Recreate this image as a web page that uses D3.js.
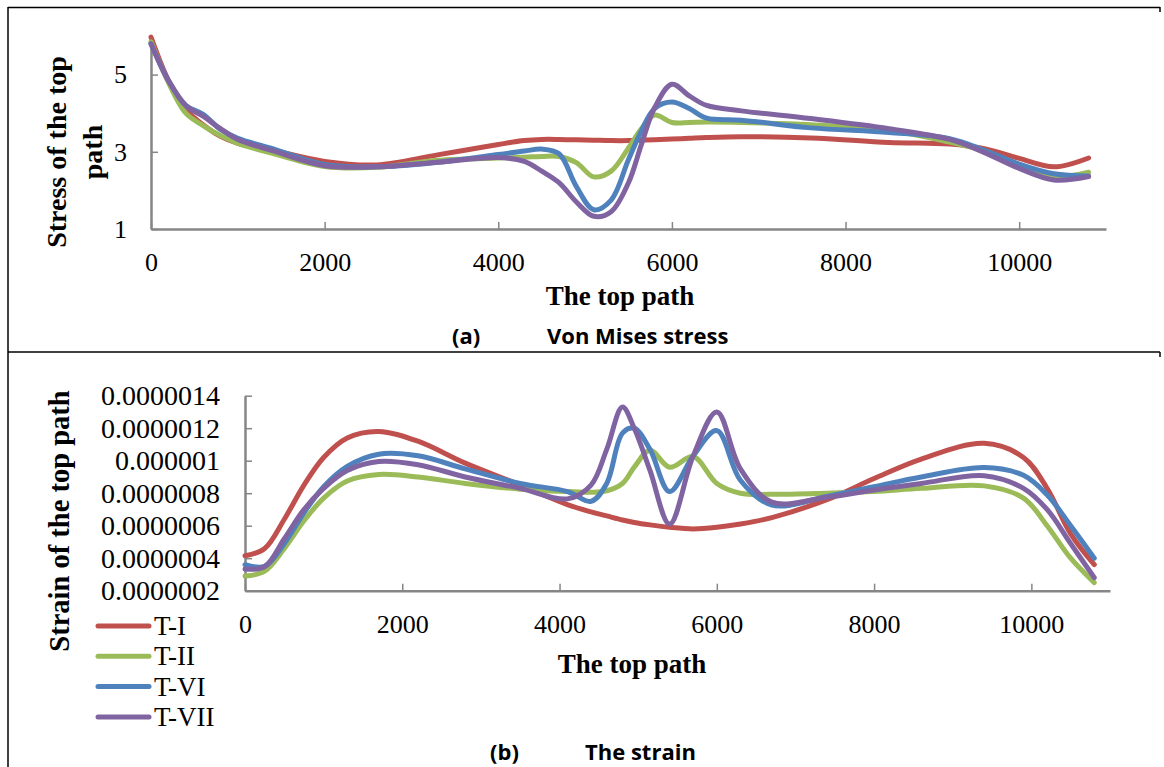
<!DOCTYPE html>
<html>
<head>
<meta charset="utf-8">
<script src="https://cdn.jsdelivr.net/npm/d3@7"></script>
<style>
    body { margin: 0; background: #fff; }
    svg { display: block; }
</style>
</head>
<body>
<div id="chart"></div>
<script>
// series names and colours
const seriesNames  = ["T-I", "T-II", "T-VI", "T-VII"];
const seriesColors = ["#C0504D", "#9BBB59", "#4F81BD", "#8064A2"];

// (a) Von Mises stress along the top path
const stressX = [0, 200, 400, 600, 800, 1000, 1400, 2000, 2600, 3300, 4000, 4300, 4500, 4700, 4900,
    5100, 5300, 5500, 5650, 5800, 6000, 6200, 6400, 6800, 7600, 8500, 9200, 9600, 10000, 10400, 10800];
const stressTI   = [5.97, 4.85, 4.1, 3.7, 3.4, 3.22, 3.04, 2.75, 2.66, 2.92, 3.19, 3.29, 3.32, 3.32, 3.31,
    3.30, 3.29, 3.29, 3.30, 3.31, 3.33, 3.35, 3.37, 3.39, 3.36, 3.24, 3.20, 3.08, 2.83, 2.61, 2.84];
const stressTII  = [5.85, 4.8, 4.0, 3.68, 3.42, 3.22, 2.96, 2.62, 2.6, 2.78, 2.84, 2.86, 2.88, 2.88, 2.72,
    2.35, 2.5, 3.1, 3.6, 3.95, 3.76, 3.76, 3.77, 3.76, 3.70, 3.56, 3.25, 3.02, 2.67, 2.36, 2.47];
const stressTVI  = [5.8, 4.85, 4.2, 3.97, 3.58, 3.35, 3.08, 2.67, 2.61, 2.73, 2.93, 3.02, 3.07, 2.95, 2.1,
    1.5, 1.75, 2.8, 3.55, 4.12, 4.29, 4.12, 3.87, 3.82, 3.62, 3.50, 3.34, 3.04, 2.68, 2.43, 2.37];
const stressTVII = [5.8, 4.85, 4.2, 3.92, 3.6, 3.32, 3.03, 2.64, 2.61, 2.73, 2.85, 2.75, 2.5, 2.2, 1.7,
    1.33, 1.45, 2.2, 3.2, 4.14, 4.75, 4.45, 4.2, 4.06, 3.86, 3.6, 3.32, 2.98, 2.57, 2.27, 2.36];

// (b) strain along the top path, in units of 1e-6
const strainX = [0, 250, 500, 750, 1000, 1300, 1700, 2200, 2800, 3500, 4100, 4400, 4600, 4800, 4950,
    5150, 5400, 5700, 6000, 6300, 6700, 7400, 8000, 8600, 9400, 9900, 10200, 10500, 10800];
const strainTI   = [0.415, 0.46, 0.64, 0.85, 1.02, 1.14, 1.18, 1.12, 0.985, 0.85, 0.73, 0.685, 0.66, 0.635, 0.62,
    0.605, 0.59, 0.58, 0.59, 0.61, 0.65, 0.76, 0.89, 1.01, 1.107, 1.02, 0.83, 0.55, 0.36];
const strainTII  = [0.29, 0.32, 0.46, 0.63, 0.77, 0.875, 0.915, 0.9, 0.86, 0.825, 0.81, 0.806, 0.815, 0.86, 0.96,
    1.065, 0.96, 1.025, 0.86, 0.80, 0.793, 0.80, 0.81, 0.83, 0.845, 0.77, 0.60, 0.40, 0.25];
const strainTVI  = [0.36, 0.35, 0.49, 0.68, 0.84, 0.965, 1.04, 1.03, 0.95, 0.86, 0.81, 0.75, 0.86, 1.17, 1.2,
    1.07, 0.81, 1.03, 1.185, 0.88, 0.727, 0.78, 0.84, 0.90, 0.958, 0.91, 0.79, 0.60, 0.40];
const strainTVII = [0.333, 0.348, 0.52, 0.70, 0.83, 0.94, 0.995, 0.975, 0.9, 0.83, 0.765, 0.85, 1.07, 1.33, 1.2,
    0.94, 0.61, 1.03, 1.30, 0.95, 0.745, 0.775, 0.82, 0.86, 0.908, 0.83, 0.70, 0.49, 0.28];
const strainUnit = 1e-6;

// ticks
const xTicks            = [0, 2000, 4000, 6000, 8000, 10000];
const stressTicks       = [1, 3, 5];
const strainTicks       = [0.2e-6, 0.4e-6, 0.6e-6, 0.8e-6, 1.0e-6, 1.2e-6, 1.4e-6];
const strainTickLabels  = ["0.0000002", "0.0000004", "0.0000006", "0.0000008", "0.000001", "0.0000012", "0.0000014"];

const width  = 1164;
const height = 767;

const serif   = "'Liberation Serif', 'Times New Roman', serif";
const sans    = "'Open Sans', 'Noto Sans', sans-serif";
const axisCol = "#868686";

let svg = d3.select("#chart")
    .append("svg")
    .attr("width", width)
    .attr("height", height);

//////////////
/// Frame  ///
//////////////

let frame = svg.append("g")
    .attr("stroke", "#000")
    .attr("stroke-width", 1.5);
frame.append("line").attr("x1", 8).attr("x2", 1160).attr("y1", 7.5).attr("y2", 7.5);
frame.append("line").attr("x1", 8).attr("x2", 1160).attr("y1", 352).attr("y2", 352);
frame.append("line").attr("x1", 8).attr("x2", 8).attr("y1", 7).attr("y2", height);
frame.append("line").attr("x1", 1160).attr("x2", 1160).attr("y1", 7).attr("y2", 12);
frame.append("line").attr("x1", 1160).attr("x2", 1160).attr("y1", 352).attr("y2", 357);

function drawPanel(opts) {
    let g = svg.append("g");

    let x = d3.scaleLinear().domain([0, 11000]).range(opts.xRange);
    let y = d3.scaleLinear().domain(opts.yDomain).range(opts.yRange);

    let xAxis = g.append("g")
        .attr("transform", "translate(0," + opts.yRange[0] + ")")
        .call(d3.axisBottom(x)
            .tickValues(xTicks)
            .tickFormat(d3.format("d"))
            .tickSizeInner(-7)
            .tickSizeOuter(0)
            .tickPadding(24));

    let yAxis = g.append("g")
        .attr("transform", "translate(" + opts.xRange[0] + ",0)")
        .call(d3.axisLeft(y)
            .tickValues(opts.yTicks)
            .tickFormat((d, i) => opts.yLabels[i])
            .tickSizeInner(-7)
            .tickSizeOuter(0)
            .tickPadding(opts.yPad));

    [xAxis, yAxis].forEach(a => {
        a.select(".domain").attr("stroke", axisCol).attr("stroke-width", 2.5);
        a.selectAll(".tick line").attr("stroke", axisCol).attr("stroke-width", 1.5);
        a.selectAll(".tick text")
            .attr("fill", "#000")
            .style("font-family", serif)
            .style("font-size", "26px");
    });
    yAxis.selectAll(".tick text").style("font-size", opts.yFont + "px");

    let line = d3.line()
        .x(d => x(d[0]))
        .y(d => y(d[1]))
        .curve(d3.curveCatmullRom.alpha(0.5));

    opts.series.forEach((vals, i) => {
        let pts = opts.xs.map((xv, k) => [xv, vals[k] * opts.unit]);
        g.append("path")
            .datum(pts)
            .attr("fill", "none")
            .attr("stroke", seriesColors[i])
            .attr("stroke-width", 5)
            .attr("stroke-linejoin", "round")
            .attr("stroke-linecap", "round")
            .attr("d", line);
    });

    // x title
    g.append("text")
        .attr("x", opts.xTitle[0])
        .attr("y", opts.xTitle[1])
        .attr("text-anchor", "middle")
        .style("font-family", serif)
        .style("font-size", "27px")
        .style("font-weight", "bold")
        .text("The top path");

    // y title (one or more lines)
    let yt = g.append("text")
        .attr("transform", "translate(" + opts.yTitle[0] + "," + opts.yTitle[1] + ") rotate(-90)")
        .attr("text-anchor", "middle")
        .style("font-family", serif)
        .style("font-size", opts.yTitleFont + "px")
        .style("font-weight", "bold");
    opts.yTitleLines.forEach((t, i) => {
        yt.append("tspan")
            .attr("x", 0)
            .attr("y", i * opts.yTitleGap)
            .text(t);
    });

    // caption
    let cap = g.append("g")
        .style("font-family", sans)
        .style("font-size", "22px")
        .style("font-weight", "bold");
    cap.append("text").attr("x", opts.caption[0]).attr("y", opts.caption[2]).text(opts.caption[3]);
    cap.append("text").attr("x", opts.caption[1]).attr("y", opts.caption[2]).text(opts.caption[4]);
}

///////////////////
/// (a) stress  ///
///////////////////

drawPanel({
    xRange: [151, 1106],
    yDomain: [1, 6],
    yRange: [229, 36],
    yTicks: stressTicks,
    yLabels: stressTicks.map(String),
    yPad: 24,
    yFont: 26,
    xs: stressX,
    series: [stressTI, stressTII, stressTVI, stressTVII],
    unit: 1,
    xTitle: [620, 305],
    yTitle: [66, 152],
    yTitleFont: 28,
    yTitleLines: ["Stress of the top", "path"],
    yTitleGap: 36,
    caption: [452, 547, 344, "(a)", "Von Mises stress"]
});

///////////////////
/// (b) strain  ///
///////////////////

drawPanel({
    xRange: [245, 1110],
    yDomain: [0.2e-6, 1.4e-6],
    yRange: [590.7, 395.7],
    yTicks: strainTicks,
    yLabels: strainTickLabels,
    yPad: 25,
    yFont: 28,
    xs: strainX,
    series: [strainTI, strainTII, strainTVI, strainTVII],
    unit: strainUnit,
    xTitle: [632, 673],
    yTitle: [69, 521],
    yTitleFont: 28.5,
    yTitleLines: ["Strain of the top path"],
    yTitleGap: 0,
    caption: [490, 585, 760, "(b)", "The strain"]
});

//////////////
/// Legend ///
//////////////

let legend = svg.append("g");
seriesNames.forEach((name, i) => {
    let ly = 626 + i * 30.3;
    legend.append("line")
        .attr("x1", 98).attr("x2", 149)
        .attr("y1", ly).attr("y2", ly)
        .attr("stroke", seriesColors[i])
        .attr("stroke-width", 5)
        .attr("stroke-linecap", "round");
    legend.append("text")
        .attr("x", 154)
        .attr("y", ly + 9)
        .style("font-family", serif)
        .style("font-size", "27px")
        .text(name);
});
</script>
</body>
</html>
